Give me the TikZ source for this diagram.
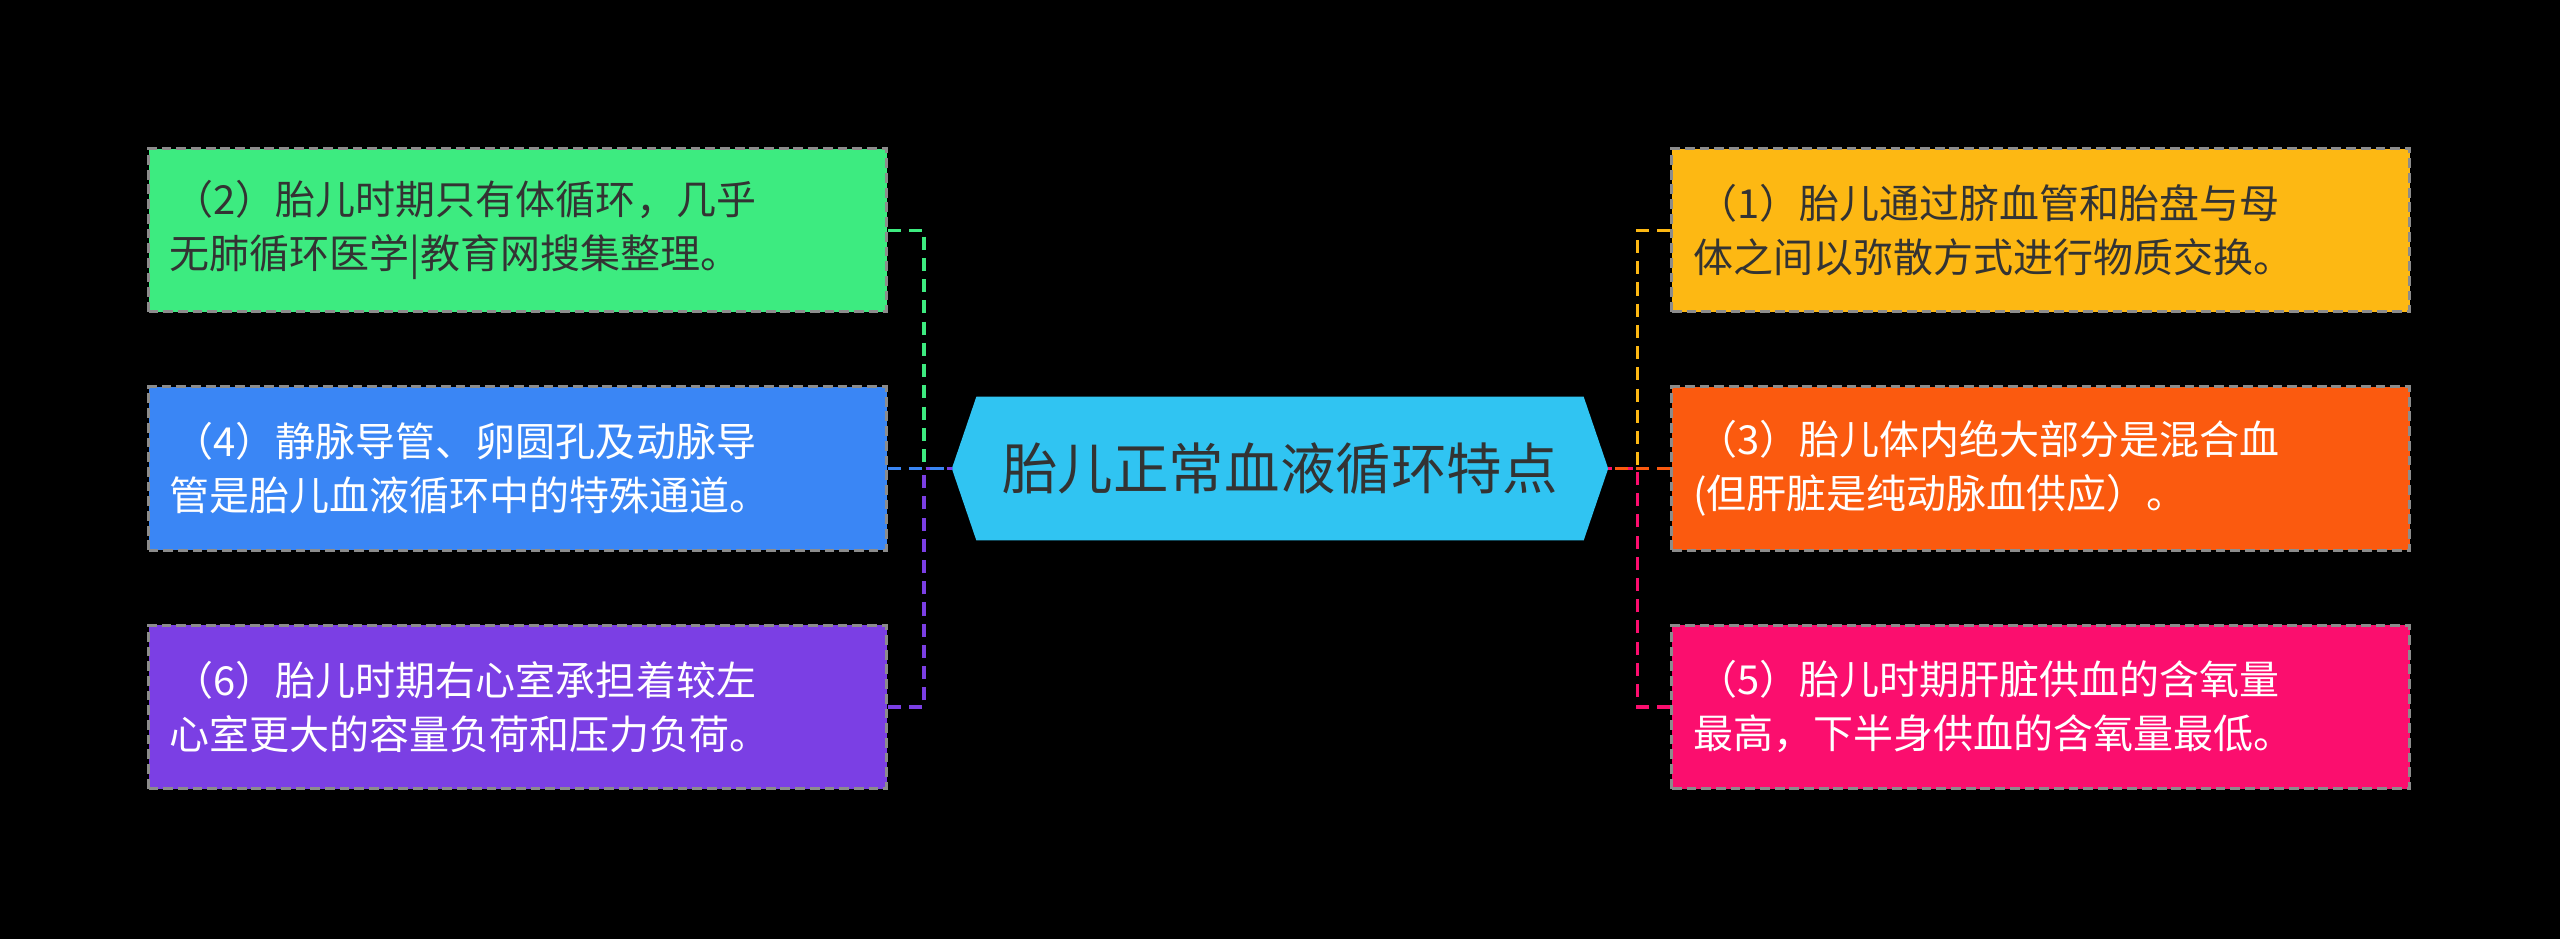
\documentclass[tikz,border=0pt]{standalone}
\usepackage{fontspec}
\newfontfamily\cjk{Noto Sans CJK SC}
\definecolor{cg}{HTML}{3DEB80}\definecolor{cb}{HTML}{3A86F5}\definecolor{cp}{HTML}{7B3FE4}
\definecolor{cy}{HTML}{FDB813}\definecolor{co}{HTML}{FB5A0F}\definecolor{cpk}{HTML}{FB0E6E}
\definecolor{cc}{HTML}{30C4F2}\definecolor{dk}{HTML}{333333}
\begin{document}
\begin{tikzpicture}[x=1pt,y=-1pt,
 box/.style={minimum width=452pt,minimum height=100pt,draw=black!45,dash pattern=on 6pt off 3pt,line width=1.8pt,align=left,font=\cjk\fontsize{24.5}{33}\selectfont,text width=426pt,inner sep=0pt},
 con/.style={line width=2pt,dash pattern=on 8pt off 5pt}]
\fill (0,0) rectangle (1568,575);
\node[box,fill=cg,text=dk] (b2) at (317,141) {\hspace*{0.1em}（2）胎儿时期只有体循环，几乎\\无肺循环医学|教育网搜集整理。};
\node[box,fill=cb,text=white] (b4) at (317,287) {\hspace*{0.1em}（4）静脉导管、卵圆孔及动脉导\\管是胎儿血液循环中的特殊通道。};
\node[box,fill=cp,text=white] (b6) at (317,433) {\hspace*{0.1em}（6）胎儿时期右心室承担着较左\\心室更大的容量负荷和压力负荷。};
\node[box,fill=cy,text=dk] (b1) at (1250,141) {\hspace*{0.1em}（1）胎儿通过脐血管和胎盘与母\\体之间以弥散方式进行物质交换。};
\node[box,fill=co,text=white] (b3) at (1250,287) {\hspace*{0.1em}（3）胎儿体内绝大部分是混合血\\(但肝脏是纯动脉血供应）。};
\node[box,fill=cpk,text=white] (b5) at (1250,433) {\hspace*{0.1em}（5）胎儿时期肝脏供血的含氧量\\最高，下半身供血的含氧量最低。};
\fill[cc] (583,287) -- (598,243) -- (970,243) -- (985,287) -- (970,331) -- (598,331) -- cycle;
\node[font=\cjk\fontsize{34}{40}\selectfont,text=dk] (c) at (784,287) {胎儿正常血液循环特点};
\coordinate (cl) at (583,287); \coordinate (cr) at (985,287);
\draw[con,cg] (b2.east) -- ++(22,0) |- (cl);
\draw[con,cp] (b6.east) -- ++(22,0) |- (cl);
\draw[con,cb] (b4.east) -- (cl);
\draw[con,cy] (b1.west) -- ++(-20,0) |- (cr);
\draw[con,cpk] (b5.west) -- ++(-20,0) |- (cr);
\draw[con,co] (b3.west) -- (cr);
\end{tikzpicture}
\end{document}
